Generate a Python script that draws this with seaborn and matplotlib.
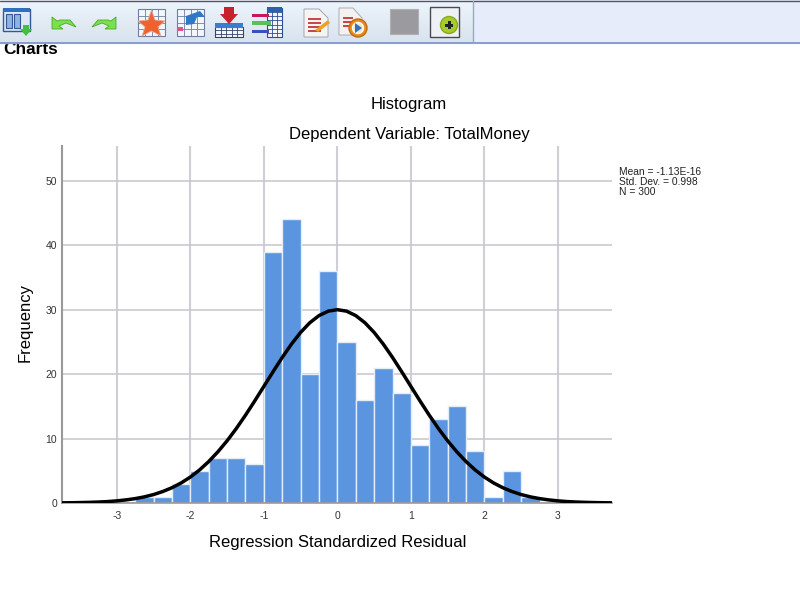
import numpy as np
import pandas as pd
import seaborn as sns
import matplotlib
matplotlib.use('Agg')
import matplotlib.pyplot as plt
from matplotlib.patches import Rectangle, Polygon, Circle

# histogram counts, bins of 0.25 from -2.75 to 2.75
counts = [1, 1, 3, 5, 7, 7, 6, 39, 44, 20, 36, 25, 16, 21, 17, 9, 13, 15, 8, 1, 5, 1]

# normal curve, 0 to 3.75 in steps of 0.125
curve_right = [30.0, 29.77, 29.08, 27.97, 26.47, 24.65, 22.59, 20.37, 18.09, 15.82, 13.62,
               11.55, 9.65, 7.94, 6.43, 5.12, 4.02, 3.11, 2.37, 1.78, 1.31, 0.95, 0.68,
               0.48, 0.33, 0.22, 0.15, 0.10, 0.065, 0.04, 0.025]

x_ticks = [-3, -2, -1, 0, 1, 2, 3]
y_ticks = [0, 10, 20, 30, 40, 50]
stats_lines = ['Mean = -1.13E-16', 'Std. Dev. = 0.998', 'N = 300']

sns.set_theme(style='whitegrid')
plt.rcParams['font.family'] = ['Liberation Sans', 'DejaVu Sans']
plt.rcParams['axes.unicode_minus'] = False

W, H = 800, 600
fig = plt.figure(figsize=[W / 100, H / 100], dpi=100)
ax = fig.add_axes([62 / W, 1 - 503 / H, 550 / W, 357 / H])

# bars
edges = np.arange(len(counts) + 1) * 0.25 - 2.75
df = pd.DataFrame({'mid': (edges[:-1] + edges[1:]) / 2, 'count': counts})
sns.histplot(data=df, x='mid', weights='count', bins=len(counts), binrange=(-2.75, 2.75), ax=ax,
             color='#5b95e0', alpha=1, edgecolor='#e4ecf8', linewidth=1.0, zorder=2)

# normal curve
curve = curve_right[:0:-1] + curve_right
curve_x = (np.arange(len(curve)) - len(curve_right) + 1) * 0.125
sns.lineplot(x=curve_x, y=curve, ax=ax, color='black', linewidth=2.5, zorder=3)

ax.set_xlim(-3.745, 3.735)
ax.set_ylim(0, 55.4)
ax.set_xticks(x_ticks)
ax.set_yticks(y_ticks)
ax.set_axisbelow(True)
ax.xaxis.grid(True, color='#cfcfd6', linewidth=1.5)
ax.yaxis.grid(True, color='#c6c6cc', linewidth=1.1)
ax.tick_params(axis='both', length=0, labelsize=7.5, labelcolor='#333333')
ax.tick_params(axis='x', pad=6)
ax.tick_params(axis='y', pad=3.5)
ax.set_xlabel('')
ax.set_ylabel('')
for s in ['top', 'right']:
    ax.spines[s].set_visible(False)
ax.spines['left'].set_color('#999999')
ax.spines['left'].set_linewidth(1.5)
ax.spines['bottom'].set_color('#999999')
ax.spines['bottom'].set_linewidth(1.2)

# texts placed in pixels of the page
fig.text(409 / W, 1 - 105 / H, 'Histogram', ha='center', va='center', fontsize=12, color='black')
fig.text(409 / W, 1 - 134 / H, 'Dependent Variable: TotalMoney', ha='center', va='center',
         fontsize=12, color='black')
fig.text(25 / W, 1 - 323 / H, 'Frequency', rotation=90, ha='center', va='center', fontsize=12,
         color='black')
fig.text(338 / W, 1 - 543 / H, 'Regression Standardized Residual', ha='center', va='center',
         fontsize=12, color='black')
for i, line in enumerate(stats_lines):
    fig.text(619 / W, 1 - (172 + i * 10) / H, line, ha='left', va='center', fontsize=7.4,
             color='#222222')

# window chrome on top, pixel coordinates
top = fig.add_axes([0, 0, 1, 1], zorder=5)
top.set_xlim(0, W)
top.set_ylim(H, 0)
top.axis('off')
top.patch.set_alpha(0)

top.text(3, 49, 'Charts', ha='left', va='center', fontsize=12.4, fontweight='bold', color='black')
top.add_patch(Rectangle((0, 0), W, 43, color='#e6ecfa', zorder=3))
grad = np.linspace(0, 1, 43).reshape(-1, 1, 1) * np.array([[[0.85, 0.89, 0.93]]]) + \
    np.linspace(1, 0, 43).reshape(-1, 1, 1) * np.array([[[0.93, 0.96, 0.99]]])
top.imshow(grad, extent=(0, 473, 43, 0), aspect='auto', zorder=3.5)
top.set_xlim(0, W)
top.set_ylim(H, 0)
top.plot([0, W], [1, 1], color='#555566', lw=1, zorder=3.6)
top.plot([0, W], [43, 43], color='#7a8fc4', lw=1.2, zorder=3.6)
top.plot([473, 473], [1, 43], color='#9aa8c8', lw=1, zorder=3.6)


def rect(x, y, w, h, fc, ec='none', lw=0.8, z=4):
    top.add_patch(Rectangle((x, y), w, h, facecolor=fc, edgecolor=ec, linewidth=lw, zorder=z))


def poly(pts, fc, ec='none', z=5):
    top.add_patch(Polygon(pts, facecolor=fc, edgecolor=ec, linewidth=0.6, zorder=z))


def table(x, y, w, h, cols, rows, line='#6f7f9f'):
    rect(x, y, w, h, '#f4f6fb', line)
    for c in range(1, cols):
        top.plot([x + w * c / cols] * 2, [y, y + h], color=line, lw=0.6, zorder=4.5)
    for r in range(1, rows):
        top.plot([x, x + w], [y + h * r / rows] * 2, color=line, lw=0.6, zorder=4.5)


# window icon
rect(3, 9, 27, 22, '#dce8f6', '#34579a', 1)
rect(3, 8, 27, 4, '#2f6fc0', z=5)
rect(6, 14, 6, 14, '#8fb4e0', '#34579a', z=5)
rect(14, 14, 6, 14, '#8fb4e0', '#34579a', z=5)
poly([(20, 29), (32, 29), (26, 36)], '#3fc03f', z=6)
rect(23, 25, 6, 5, '#3fc03f', z=6)

# undo and redo arrows
poly([(52, 17), (52, 29), (63, 29), (59, 26), (66, 23), (76, 27), (70, 20), (60, 20), (57, 21)], '#7be04e', '#4aa82c')
poly([(116, 17), (116, 29), (105, 29), (109, 26), (102, 23), (92, 27), (98, 20), (108, 20), (111, 21)], '#7be04e', '#4aa82c')

# star on table
table(138, 9, 27, 27, 4, 4)
poly([(151.5, 10), (155, 20), (165, 21), (158, 27), (161, 36), (151.5, 31), (142, 36), (145, 27),
      (138, 21), (148, 20)], '#f0622d', '#e4b0a0')

# table with blue arrow
table(177, 9, 27, 27, 4, 4)
poly([(186, 25), (186, 16), (200, 11), (205, 17), (197, 17), (194, 24)], '#2f78c8')
rect(177, 27, 6, 4, '#e0508a', z=5)

# red arrow on table
table(215, 27, 28, 10, 5, 3, '#334466')
rect(215, 23, 28, 5, '#3a7ccf', z=5)
poly([(220, 14), (229, 24), (238, 14), (234, 14), (234, 7), (224, 7), (224, 14)], '#c8202c', z=6)

# table with coloured bars
table(267, 8, 15, 29, 3, 7, '#2a4f96')
rect(267, 7, 15, 5, '#2a62b0', z=5)
rect(252, 14, 17, 3, '#c8185c', z=5)
rect(252, 21, 19, 4, '#58c058', z=5)
rect(252, 30, 17, 3, '#3a50c0', z=5)

# document icons
poly([(304, 9), (319, 9), (328, 18), (328, 37), (304, 37)], '#f6f4f2', '#9a9aa8', z=4)
for yy in (18, 22, 26, 30):
    rect(308, yy, 13, 1.5, '#c84848', z=5)
poly([(315, 30), (328, 20), (330, 23), (318, 32)], '#f0a020', z=6)
poly([(339, 8), (353, 8), (362, 18), (362, 35), (339, 35)], '#f4f2f0', '#a0a0ac', z=4)
for yy in (17, 21, 25):
    rect(343, yy, 10, 1.5, '#c84848', z=5)
top.add_patch(Circle((358, 28), 9, facecolor='#e98a1c', edgecolor='#c06a10', zorder=6))
top.add_patch(Circle((358, 28), 5.5, facecolor='#f4e4c8', zorder=7))
poly([(355, 23), (355, 33), (362, 28)], '#2b74c0', z=8)

# grey box
rect(390, 9, 28, 25, '#9b9b9f', '#b0b0b4')

# green plus
rect(430, 7, 29, 30, '#eef2f6', '#4a4a55', 1)
top.add_patch(Circle((449, 25), 8.5, facecolor='#a6cc2c', edgecolor='#8aa820', zorder=5))
rect(445, 23.5, 8, 3, '#222222', z=6)
rect(447.5, 21, 3, 8, '#222222', z=6)

plt.savefig('out.png', dpi=100)
